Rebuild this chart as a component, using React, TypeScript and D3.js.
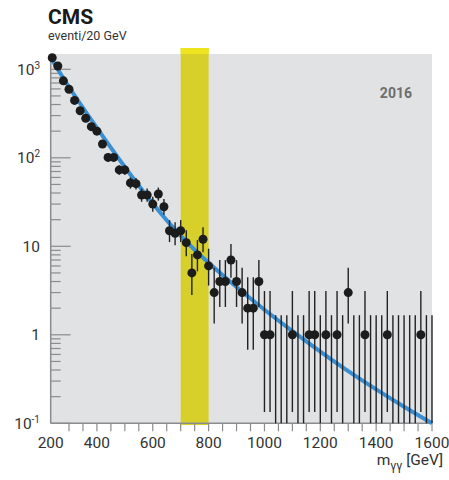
import React from "react";
import * as d3 from "d3";

// diphoton mass spectrum, 20 GeV bins
const binCenters = d3.range(240, 1601, 20);
const counts = [
  1350, 1090, 740, 595, 445, 340, 280, 225, 200, 143, 101, 101, 73, 73, 52, 51,
  38, 38, 30, 39, 28, 15, 14, 15, 11, 5, 8, 12, 6, 3, 4, 4, 7, 4, 3, 2, 2, 4, 1,
  1, 0, 0, 0, 1, 0, 0, 1, 1, 0, 1, 0, 1, 0, 3, 0, 0, 1, 0, 0, 0, 1, 0, 0, 0, 0,
  0, 1, 0, 0,
];

// background fit
const fitMass = [235, 300, 400, 500, 600, 700, 800, 900, 1000, 1100, 1200, 1300, 1400, 1500, 1600];
const fitValue = [1350, 631, 218, 78.7, 30.4, 13.15, 6.52, 3.46, 1.92, 1.1, 0.647, 0.389, 0.242, 0.154, 0.1];

const xTickLabels = [200, 400, 600, 800, 1000, 1200, 1400, 1600];
const yMajor = [0.1, 1, 10, 100, 1000];
const yLabels = [
  { base: "10", sup: "-1" },
  { base: "1", sup: "" },
  { base: "10", sup: "" },
  { base: "10", sup: "2" },
  { base: "10", sup: "3" },
];
const bandRange = [700, 800];
const yearLabel = "2016";

const W = 449;
const H = 480;
const plot = { left: 50.7, right: 432, top: 54, bottom: 423.3 };
const font = "Roboto, 'Liberation Sans', sans-serif";
const textCol = "#333";
const axisCol = "#8c8c8c";

export default function App() {
  const x = d3.scaleLinear().domain([234.5, 1600]).range([plot.left, plot.right]);
  const y = d3.scaleLog().domain([0.1, 1489]).range([plot.bottom, plot.top]);

  const minorX = d3.range(300, 1601, 50);
  const minorY: number[] = [];
  yMajor.forEach((d) => {
    for (let k = 2; k <= 9; k++) if (d * k < y.domain()[1]) minorY.push(d * k);
  });

  const fitLine = d3
    .line<number>()
    .x((_, i) => x(fitMass[i]))
    .y((d) => y(d))
    .curve(d3.curveNatural);

  // approximate poisson intervals
  const errHi = (n: number) => n + Math.sqrt(n + 0.75) + 0.8;
  const errLo = (n: number) => (n > 0 ? n - Math.sqrt(n - 0.25) : 0);
  const yMin = y.domain()[0];
  const yMax = y.domain()[1];

  return (
    <svg
      width={W}
      height={H}
      style={{ position: "absolute", left: 0, top: 0, background: "#fff" }}
      fontFamily={font}
    >
      <rect
        x={plot.left}
        y={plot.top}
        width={plot.right - plot.left}
        height={plot.bottom - plot.top}
        fill="#e1e2e4"
      />

      {/* signal window */}
      <rect
        x={x(bandRange[0])}
        y={48}
        width={x(bandRange[1]) - x(bandRange[0])}
        height={425 - 48}
        fill="#d8d02a"
      />
      <rect
        x={x(bandRange[0])}
        y={48}
        width={x(bandRange[1]) - x(bandRange[0])}
        height={plot.top - 48}
        fill="#eee41f"
      />

      {/* y axis */}
      <line x1={plot.left} x2={plot.left} y1={plot.top} y2={plot.bottom} stroke={axisCol} strokeWidth={1.5} />
      {yMajor.map((d) => (
        <line key={"M" + d} x1={plot.left} x2={plot.left + 20} y1={y(d)} y2={y(d)} stroke={axisCol} strokeWidth={1.2} />
      ))}
      {minorY.map((d) => (
        <line key={"m" + d} x1={plot.left} x2={plot.left + 10} y1={y(d)} y2={y(d)} stroke={axisCol} strokeWidth={1.2} />
      ))}
      {yMajor.map((d, i) => (
        <text key={"yl" + d} x={40} y={y(d) + 5.5} textAnchor="end" fontSize={15.5} fill={textCol}>
          {yLabels[i].base}
          {yLabels[i].sup && (
            <tspan dy={-6} fontSize={10}>
              {yLabels[i].sup}
            </tspan>
          )}
        </text>
      ))}

      {/* x axis */}
      <line x1={plot.left} x2={plot.right} y1={plot.bottom} y2={plot.bottom} stroke={axisCol} strokeWidth={1.5} />
      {minorX.map((d) => (
        <line key={"xt" + d} x1={x(d)} x2={x(d)} y1={plot.bottom} y2={plot.bottom + 8} stroke={axisCol} strokeWidth={1.2} />
      ))}
      {xTickLabels.map((d) => (
        <text
          key={"xl" + d}
          x={x(Math.max(d, x.domain()[0]))}
          y={448}
          textAnchor="middle"
          fontSize={15.5}
          fill={textCol}
        >
          {d}
        </text>
      ))}
      <text x={443} y={465} textAnchor="end" fontSize={15.5} fill={textCol}>
        m
        <tspan dy={5} fontSize={12}>
          γγ
        </tspan>
        <tspan dy={-5}> [GeV]</tspan>
      </text>

      {/* fit */}
      <path d={fitLine(fitValue) || ""} fill="none" stroke="#3a8fd2" strokeWidth={4} />

      {/* data */}
      {counts.map((n, i) => {
        const cx = x(binCenters[i]);
        const lo = Math.max(errLo(n), yMin);
        const hi = Math.min(errHi(n), yMax);
        return (
          <g key={"d" + i}>
            <line x1={cx} x2={cx} y1={y(lo)} y2={y(hi)} stroke="#222" strokeWidth={1.4} />
            {n > 0 && <circle cx={cx} cy={y(Math.min(n, yMax))} r={4.5} fill="#1c1c1c" />}
          </g>
        );
      })}

      <text x={412} y={98} textAnchor="end" fontSize={14} fontWeight={700} fill="#6e6e6e">
        {yearLabel}
      </text>

      <text x={48} y={23.5} fontSize={21} fontWeight={700} fill="#1a1a1a">
        CMS
      </text>
      <text x={48} y={39.5} fontSize={12.5} fill={textCol}>
        eventi/20 GeV
      </text>
    </svg>
  );
}
